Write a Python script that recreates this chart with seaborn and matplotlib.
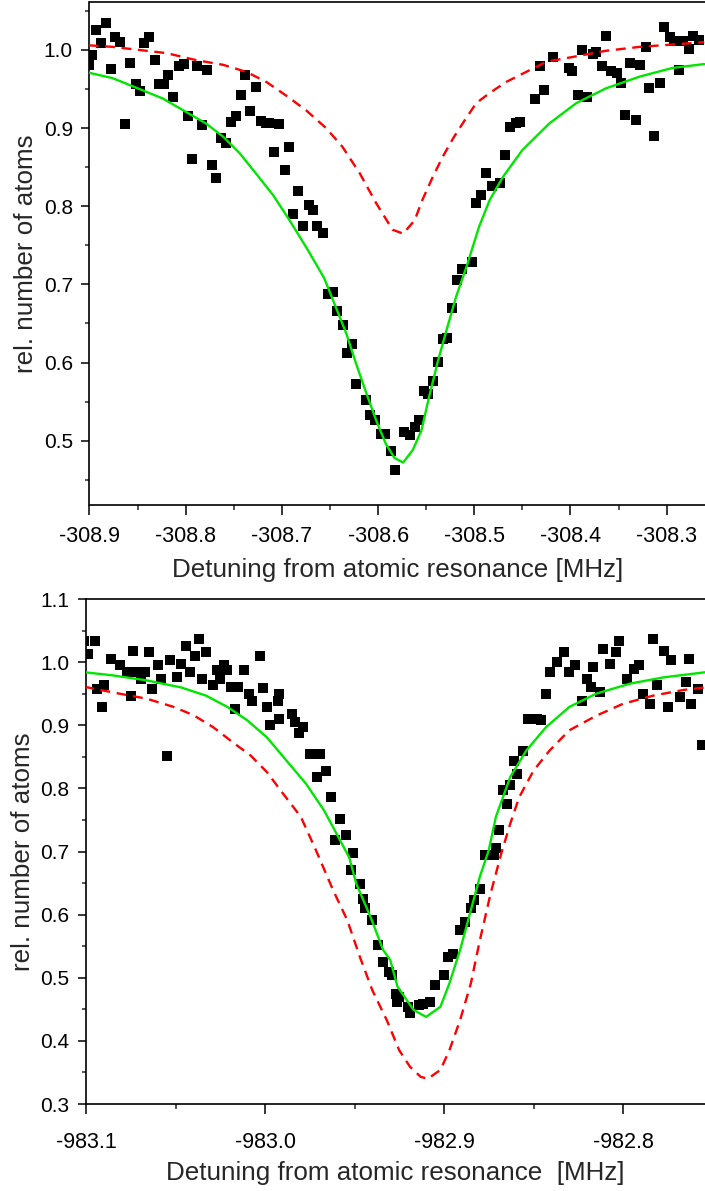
import numpy as np
import pandas as pd
import matplotlib
matplotlib.use("Agg")
import matplotlib.pyplot as plt
from matplotlib.ticker import MultipleLocator, FormatStrFormatter
import seaborn as sns

# ---------------- data: top panel ----------------
top_x = [-308.901, -308.897, -308.893, -308.888, -308.883, -308.878, -308.873, -308.868, -308.863, -308.858,
         -308.852, -308.848, -308.843, -308.838, -308.832, -308.828, -308.823, -308.818, -308.813, -308.807,
         -308.802, -308.798, -308.793, -308.788, -308.783, -308.778, -308.773, -308.768, -308.763, -308.758,
         -308.753, -308.748, -308.743, -308.738, -308.733, -308.727, -308.722, -308.717, -308.713, -308.708,
         -308.703, -308.697, -308.693, -308.688, -308.683, -308.678, -308.672, -308.668, -308.663, -308.657,
         -308.652, -308.647, -308.643, -308.637, -308.632, -308.627, -308.623, -308.613, -308.608, -308.603,
         -308.597, -308.593, -308.587, -308.582, -308.573, -308.567, -308.562, -308.557, -308.552, -308.548,
         -308.543, -308.538, -308.533, -308.528, -308.523, -308.518, -308.513, -308.502, -308.498, -308.493,
         -308.488, -308.482, -308.473, -308.468, -308.463, -308.457, -308.452, -308.437, -308.432, -308.428,
         -308.418, -308.402, -308.398, -308.392, -308.388, -308.383, -308.377, -308.373, -308.367, -308.363,
         -308.358, -308.352, -308.347, -308.343, -308.338, -308.332, -308.328, -308.322, -308.318, -308.313,
         -308.307, -308.303, -308.297, -308.292, -308.287, -308.283, -308.277, -308.273, -308.266]
top_y = [0.981, 0.994, 1.026, 1.009, 1.034, 0.976, 1.016, 1.010, 0.905, 0.983,
         0.957, 0.948, 1.009, 1.017, 0.987, 0.956, 0.957, 0.968, 0.940, 0.979,
         0.982, 0.915, 0.860, 0.980, 0.904, 0.975, 0.853, 0.836, 0.888, 0.881,
         0.908, 0.915, 0.942, 0.968, 0.922, 0.953, 0.909, 0.907, 0.907, 0.870,
         0.905, 0.846, 0.876, 0.790, 0.819, 0.775, 0.802, 0.795, 0.775, 0.766,
         0.688, 0.690, 0.666, 0.648, 0.612, 0.624, 0.572, 0.552, 0.533, 0.526,
         0.508, 0.508, 0.487, 0.463, 0.511, 0.507, 0.518, 0.526, 0.563, 0.560,
         0.576, 0.601, 0.630, 0.632, 0.670, 0.706, 0.720, 0.729, 0.804, 0.814,
         0.843, 0.826, 0.830, 0.866, 0.902, 0.907, 0.908, 0.937, 0.979, 0.949,
         0.991, 0.977, 0.973, 0.942, 1.000, 0.940, 0.995, 0.998, 0.979, 1.018,
         0.973, 0.971, 0.958, 0.917, 0.983, 0.911, 0.981, 1.004, 0.951, 0.890,
         0.958, 1.030, 1.017, 1.012, 0.975, 1.012, 1.001, 1.018, 1.013]

top_fit_x = [-308.901, -308.876, -308.848, -308.824, -308.800, -308.779, -308.761, -308.744, -308.727, -308.709,
             -308.692, -308.673, -308.656, -308.644, -308.633, -308.623, -308.612, -308.602, -308.592, -308.583,
             -308.574, -308.564, -308.555, -308.547, -308.538, -308.529, -308.519, -308.508, -308.495, -308.484,
             -308.470, -308.450, -308.422, -308.394, -308.363, -308.328, -308.294, -308.261]
top_fit_y = [0.971, 0.964, 0.950, 0.938, 0.921, 0.906, 0.889, 0.868, 0.842, 0.814,
             0.782, 0.744, 0.708, 0.671, 0.637, 0.599, 0.560, 0.526, 0.496, 0.478,
             0.472, 0.488, 0.513, 0.556, 0.601, 0.641, 0.684, 0.723, 0.774, 0.808,
             0.838, 0.872, 0.906, 0.932, 0.951, 0.966, 0.977, 0.982]

top_theo_x = [-308.901, -308.876, -308.848, -308.820, -308.789, -308.761, -308.737, -308.716, -308.696, -308.675,
              -308.654, -308.637, -308.619, -308.602, -308.585, -308.574, -308.562, -308.554, -308.543, -308.533,
              -308.522, -308.510, -308.498, -308.484, -308.467, -308.446, -308.425, -308.398, -308.363, -308.328,
              -308.294, -308.261]
top_theo_y = [1.006, 1.004, 1.000, 0.996, 0.987, 0.981, 0.972, 0.959, 0.942, 0.923,
              0.900, 0.876, 0.842, 0.804, 0.770, 0.765, 0.782, 0.808, 0.838, 0.863,
              0.887, 0.910, 0.932, 0.945, 0.959, 0.972, 0.985, 0.991, 0.999, 1.004,
              1.007, 1.010]

# ---------------- data: bottom panel ----------------
bot_x = [-983.101, -983.095, -983.099, -983.094, -983.090, -983.091, -983.086, -983.081, -983.077, -983.075,
         -983.074, -983.072, -983.069, -983.067, -983.065, -983.063, -983.060, -983.058, -983.055, -983.053,
         -983.049, -983.047, -983.044, -983.042, -983.039, -983.037, -983.035, -983.033, -983.029, -983.027,
         -983.025, -983.023, -983.021, -983.019, -983.017, -983.015, -983.012, -983.009, -983.007, -983.003,
         -983.001, -982.999, -982.997, -982.993, -982.992, -982.992, -982.985, -982.983, -982.981, -982.979,
         -982.975, -982.971, -982.969, -982.966, -982.963, -982.961, -982.958, -982.955, -982.952, -982.951,
         -982.947, -982.945, -982.944, -982.940, -982.937, -982.934, -982.931, -982.929, -982.927, -982.926,
         -982.925, -982.920, -982.919, -982.914, -982.912, -982.908, -982.905, -982.900, -982.898, -982.895,
         -982.891, -982.888, -982.885, -982.883, -982.880, -982.877, -982.872, -982.871, -982.869, -982.867,
         -982.865, -982.863, -982.861, -982.859, -982.856, -982.853, -982.848, -982.846, -982.843, -982.841,
         -982.837, -982.833, -982.830, -982.827, -982.823, -982.820, -982.818, -982.817, -982.813, -982.811,
         -982.807, -982.804, -982.802, -982.798, -982.794, -982.791, -982.789, -982.785, -982.783, -982.781,
         -982.777, -982.775, -982.773, -982.768, -982.765, -982.763, -982.762, -982.758, -982.756]
bot_y = [1.034, 1.034, 1.013, 0.958, 0.963, 0.929, 1.005, 0.995, 0.984, 0.946,
         1.018, 0.984, 0.974, 0.984, 1.016, 0.958, 0.995, 0.974, 0.851, 1.003,
         0.976, 0.997, 1.026, 0.984, 1.010, 1.037, 0.974, 1.016, 0.963, 0.987,
         0.974, 0.995, 0.987, 0.960, 0.925, 0.960, 0.987, 0.950, 0.939, 1.010,
         0.959, 0.929, 0.900, 0.939, 0.950, 0.910, 0.918, 0.905, 0.887, 0.897,
         0.855, 0.818, 0.855, 0.828, 0.786, 0.718, 0.752, 0.726, 0.670, 0.697,
         0.649, 0.625, 0.610, 0.591, 0.552, 0.525, 0.509, 0.504, 0.475, 0.462,
         0.470, 0.454, 0.444, 0.457, 0.459, 0.462, 0.488, 0.504, 0.533, 0.538,
         0.575, 0.588, 0.610, 0.623, 0.641, 0.694, 0.694, 0.705, 0.734, 0.797,
         0.776, 0.805, 0.844, 0.823, 0.860, 0.910, 0.910, 0.908, 0.949, 0.984,
         1.000, 1.016, 0.984, 0.995, 0.939, 0.974, 0.960, 0.992, 0.952, 1.021,
         0.997, 1.016, 1.034, 0.974, 0.989, 0.995, 0.950, 0.934, 1.037, 0.963,
         1.018, 0.929, 1.003, 0.944, 0.968, 1.005, 0.934, 0.958, 0.868]

bot_fit_x = [-983.101, -983.085, -983.066, -983.047, -983.033, -983.021, -983.010, -982.999, -982.988, -982.977,
             -982.967, -982.960, -982.953, -982.949, -982.941, -982.934, -982.930, -982.926, -982.917, -982.910,
             -982.902, -982.897, -982.891, -982.885, -982.880, -982.875, -982.871, -982.863, -982.854, -982.843,
             -982.830, -982.815, -982.796, -982.777, -982.754]
bot_fit_y = [0.984, 0.979, 0.971, 0.960, 0.947, 0.929, 0.908, 0.881, 0.844, 0.807,
             0.765, 0.728, 0.691, 0.649, 0.596, 0.544, 0.528, 0.486, 0.449, 0.438,
             0.454, 0.491, 0.544, 0.607, 0.660, 0.702, 0.755, 0.818, 0.860, 0.897,
             0.929, 0.950, 0.966, 0.976, 0.984]

bot_theo_x = [-983.101, -983.085, -983.066, -983.051, -983.040, -983.029, -983.018, -983.008, -982.999, -982.990,
              -982.980, -982.972, -982.962, -982.954, -982.947, -982.940, -982.932, -982.925, -982.919, -982.913,
              -982.909, -982.902, -982.897, -982.891, -982.885, -982.880, -982.874, -982.868, -982.863, -982.858,
              -982.850, -982.841, -982.830, -982.815, -982.800, -982.783, -982.766, -982.754]
bot_theo_y = [0.961, 0.952, 0.942, 0.929, 0.916, 0.897, 0.873, 0.852, 0.826, 0.792,
              0.755, 0.705, 0.639, 0.591, 0.533, 0.480, 0.433, 0.385, 0.359, 0.343,
              0.340, 0.354, 0.385, 0.433, 0.491, 0.559, 0.633, 0.697, 0.744, 0.786,
              0.828, 0.860, 0.892, 0.915, 0.934, 0.947, 0.956, 0.960]

x_label_top = "Detuning from atomic resonance [MHz]"
x_label_bot = "Detuning from atomic resonance  [MHz]"
y_label = "rel. number of atoms"

# ---------------- style ----------------
sns.set_style("ticks")
plt.rcParams["font.family"] = ["Liberation Sans", "DejaVu Sans"]
plt.rcParams["axes.unicode_minus"] = False

GREEN = "#00e600"
RED = "#ff0000"

fig = plt.figure(figsize=(7.05, 11.91), dpi=100)
W, H = 705.0, 1191.0


def make_axes(left_px, top_px, bottom_px, right_px=705.0):
    return fig.add_axes([left_px / W, 1 - bottom_px / H, (right_px - left_px) / W, (bottom_px - top_px) / H])


def style_axes(ax, xpad):
    for side in ["left", "bottom", "top"]:
        ax.spines[side].set_visible(True)
        ax.spines[side].set_linewidth(1.2)
        ax.spines[side].set_color("black")
    ax.spines["right"].set_visible(False)
    ax.xaxis.set_major_locator(MultipleLocator(0.1))
    ax.xaxis.set_minor_locator(MultipleLocator(0.05))
    ax.yaxis.set_major_locator(MultipleLocator(0.1))
    ax.yaxis.set_minor_locator(MultipleLocator(0.05))
    ax.xaxis.set_major_formatter(FormatStrFormatter("%.1f"))
    ax.yaxis.set_major_formatter(FormatStrFormatter("%.1f"))
    ax.tick_params(axis="x", which="major", direction="out", length=7.5, width=1.1, labelsize=15.5, pad=xpad,
                   top=False, colors="black")
    ax.tick_params(axis="x", which="minor", direction="out", length=3.8, width=1.1, top=False)
    ax.tick_params(axis="y", which="major", direction="out", length=6, width=1.1, labelsize=15, pad=6,
                   right=False, colors="black")
    ax.tick_params(axis="y", which="minor", direction="out", length=3, width=1.1, right=False)
    ax.grid(False)


def draw_panel(ax, px, py, fx, fy, tx, ty):
    sns.scatterplot(x=px, y=py, ax=ax, marker="s", s=62, color="black", linewidth=0, zorder=2, legend=False)
    sns.lineplot(x=tx, y=ty, ax=ax, color=RED, linewidth=1.7, linestyle=(0, (4.2, 2.8)),
                 estimator=None, sort=False, zorder=3, legend=False)
    sns.lineplot(x=fx, y=fy, ax=ax, color=GREEN, linewidth=1.7,
                 estimator=None, sort=False, zorder=4, legend=False)
    for ln in ax.lines:
        ln.set_solid_joinstyle("round")
        ln.set_dash_joinstyle("round")


# top panel
ax1 = make_axes(89.5, 1.7, 505)
draw_panel(ax1, top_x, top_y, top_fit_x, top_fit_y, top_theo_x, top_theo_y)
ax1.set_xlim(-308.9, -308.9 + (705 - 89.5) / 962.0)
ax1.set_ylim(0.4177, 1.0618)
style_axes(ax1, xpad=7.5)
ax1.set_xlabel(x_label_top, fontsize=18.7, labelpad=8)
ax1.set_ylabel(y_label, fontsize=18.7, labelpad=4)

# bottom panel
ax2 = make_axes(86, 599, 1104)
draw_panel(ax2, bot_x, bot_y, bot_fit_x, bot_fit_y, bot_theo_x, bot_theo_y)
ax2.set_xlim(-983.1, -983.1 + (705 - 86) / 1790.0)
ax2.set_ylim(0.3, 1.1)
style_axes(ax2, xpad=12.5)
ax2.set_xlabel(x_label_bot, fontsize=18.7, labelpad=6)
ax2.set_ylabel(y_label, fontsize=18.7, labelpad=4)

fig.savefig("out.png", dpi=100)
